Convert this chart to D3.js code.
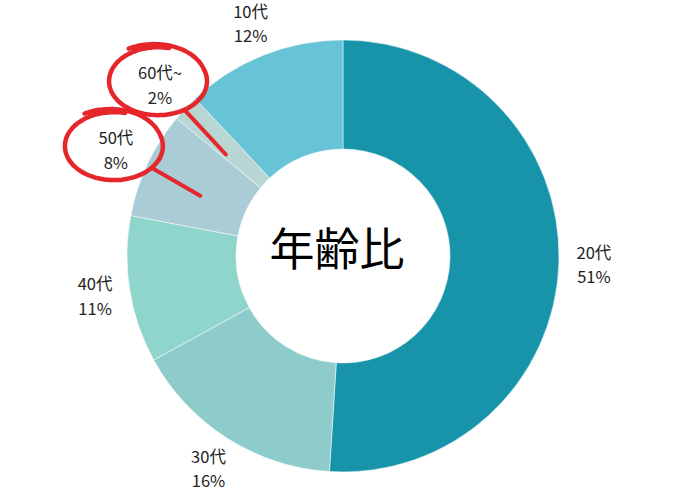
<!DOCTYPE html>
<html><head><meta charset="utf-8">
<script src="https://cdn.jsdelivr.net/npm/d3@7"></script>
<style>
html,body{margin:0;padding:0;background:#fff;}
text{font-family:"Noto Sans CJK JP","Open Sans",sans-serif;}
</style></head>
<body>
<svg id="chart" width="695" height="500"></svg>
<script>
const categories = ["20代","30代","40代","50代","60代~","10代"];
const values = [51,16,11,8,2,12];
const colors = ["#1794a9","#8ecccb","#90d5cc","#a9ccd6","#b8d6d3","#66c4d6"];
const centerTitle = "年齢比";
const highlighted = ["60代~","50代"];

const W=695,H=500, cx=343, cy=256, rOut=216, rIn=107, rLabel=251;
const svg=d3.select("#chart");
const g=svg.append("g").attr("transform",`translate(${cx},${cy})`);

const data=categories.map((c,i)=>({cat:c,value:values[i],color:colors[i]}));
const pie=d3.pie().value(d=>d.value).sort(null);
const arcs=pie(data);
const arc=d3.arc().innerRadius(rIn).outerRadius(rOut);
const labelArc=d3.arc().innerRadius(rLabel).outerRadius(rLabel);

g.selectAll("path.slice").data(arcs).join("path")
  .attr("class","slice")
  .attr("d",arc)
  .attr("fill",d=>d.data.color)
  .attr("stroke","#ffffff").attr("stroke-width",0.7).attr("stroke-opacity",0.7);

const lab=g.selectAll("g.lab").data(arcs).join("g").attr("class","lab")
  .attr("transform",d=>{const [x,y]=labelArc.centroid(d);return `translate(${x},${y})`;});
lab.append("text").attr("text-anchor","middle").attr("y",-11).attr("dy","0.36em")
  .attr("font-size",16.5).attr("fill","#222").text(d=>d.data.cat);
lab.append("text").attr("text-anchor","middle").attr("y",13.5).attr("dy","0.36em")
  .attr("font-size",16.5).attr("fill","#222").text(d=>d.data.value+"%");

g.append("text").attr("x",-6).attr("y",-6).attr("text-anchor","middle").attr("dy","0.36em")
  .attr("font-size",45).attr("font-weight",400).attr("fill","#000")
  .text(centerTitle);

// hand-drawn style red circles around highlighted labels
const red="#e5262b";
arcs.filter(d=>highlighted.includes(d.data.cat)).forEach(d=>{
  const [lx,ly]=labelArc.centroid(d);
  const ecx=lx-2, ecy=ly-3, rx=49, ry=34;
  const pts=[];
  const deg=Math.PI/180, t0=-122*deg, span=405*deg, n=120;
  for(let i=0;i<=n;i++){
    const f=i/n, t=t0+span*f;
    const k=1+0.13*Math.max(0,1-(t-t0)/(100*deg));
    pts.push([ecx+rx*k*Math.cos(t), ecy+ry*k*Math.sin(t)]);
  }
  g.append("path").attr("d",d3.line().curve(d3.curveBasis)(pts))
    .attr("fill","none").attr("stroke",red).attr("stroke-width",4.5).attr("stroke-linecap","round");
  // pointer line into the slice
  const a=(d.startAngle+d.endAngle)/2 - 0.04;
  const rEnd=155;
  const ex=Math.sin(a)*rEnd, ey=-Math.cos(a)*rEnd;
  const ang=Math.atan2((ey-ecy)/ry,(ex-ecx)/rx);
  const sx=ecx+rx*Math.cos(ang), sy=ecy+ry*Math.sin(ang);
  g.append("line").attr("x1",sx).attr("y1",sy).attr("x2",ex).attr("y2",ey)
    .attr("stroke",red).attr("stroke-width",4).attr("stroke-linecap","round");
});
</script>
</body></html>
